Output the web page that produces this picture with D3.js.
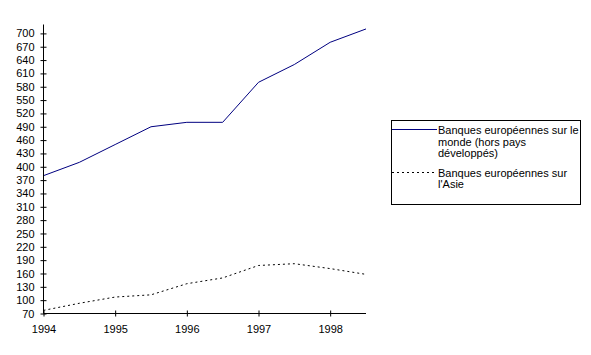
<!DOCTYPE html>
<html>
<head>
<meta charset="utf-8">
<script src="https://cdn.jsdelivr.net/npm/d3@7"></script>
<style>
body{margin:0;background:#fff;}
svg{display:block;font-family:"Liberation Sans",Arial,sans-serif;}
</style>
</head>
<body>
<svg id="c" width="591" height="355"></svg>
<script>
const years = [1994, 1994.5, 1995, 1995.5, 1996, 1996.5, 1997, 1997.5, 1998, 1998.5];
const mondeValues = [380, 410, 450, 490, 500, 500, 590, 630, 680, 710];
const asieValues = [77, 93, 107, 112, 137, 150, 178, 182, 171, 158];
const yTicks = [70,100,130,160,190,220,250,280,310,340,370,400,430,460,490,520,550,580,610,640,670,700];
const xTicks = [1994, 1995, 1996, 1997, 1998];
const legendMonde = ["Banques européennes sur le", "monde (hors pays", "développés)"];
const legendAsie = ["Banques européennes sur", "l'Asie"];

const svg = d3.select("#c");
const x = d3.scaleLinear().domain([1994, 1998.5]).range([43.5, 366]);
const y = d3.scaleLinear().domain([70, 720]).range([313.5, 24.5]);

const line = d3.line().x((d,i)=>x(years[i])).y(d=>y(d));

svg.append("path").datum(mondeValues).attr("d", line)
  .attr("fill","none").attr("stroke","#000080").attr("stroke-width",1);
svg.append("path").datum(asieValues).attr("d", line)
  .attr("fill","none").attr("stroke","#000").attr("stroke-width",1)
  .attr("stroke-dasharray","2,3");

const ya = svg.append("g").attr("transform","translate(43.5,0)")
  .call(d3.axisLeft(y).tickValues(yTicks).tickSize(3).tickPadding(6).tickFormat(d3.format("d")));
const xa = svg.append("g").attr("transform","translate(0,313.5)")
  .call(d3.axisBottom(x).tickValues(xTicks).tickSize(3).tickPadding(8.5).tickFormat(d3.format("d")));
[ya, xa].forEach(g=>{
  g.select(".domain").attr("stroke","#000");
  g.selectAll("text").attr("font-size",11).attr("font-family","Liberation Sans, Arial, sans-serif").attr("fill","#000");
  g.selectAll("line").attr("stroke","#000");
});
ya.select(".domain").attr("d","M0,313.5V24.5");
xa.select(".domain").attr("d","M43.5,0H366");
ya.selectAll(".tick line").attr("x1",3).attr("x2",-3);
xa.selectAll(".tick line").attr("y1",-3).attr("y2",3);

// legend
const lg = svg.append("g");
lg.append("rect").attr("x",391.5).attr("y",120.5).attr("width",189).attr("height",84)
  .attr("fill","#fff").attr("stroke","#000").attr("stroke-width",1);
lg.append("line").attr("x1",392).attr("x2",437).attr("y1",129.5).attr("y2",129.5)
  .attr("stroke","#000080").attr("stroke-width",1);
lg.append("line").attr("x1",392).attr("x2",437).attr("y1",172.5).attr("y2",172.5)
  .attr("stroke","#000").attr("stroke-width",1).attr("stroke-dasharray","2,3");
legendMonde.forEach((t,i)=>{
  lg.append("text").attr("x",438).attr("y",134+i*11.7).attr("font-size",11).text(t);
});
legendAsie.forEach((t,i)=>{
  lg.append("text").attr("x",438).attr("y",176.7+i*11.3).attr("font-size",11).text(t);
});
</script>
</body>
</html>
